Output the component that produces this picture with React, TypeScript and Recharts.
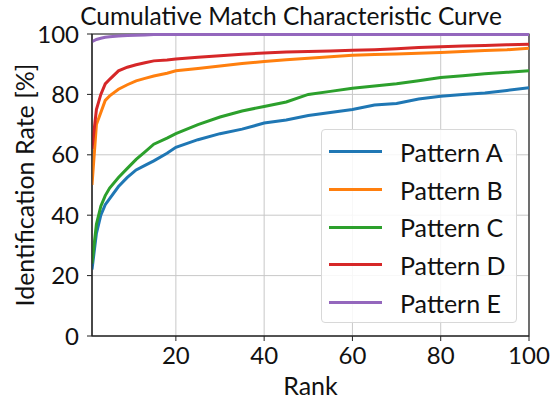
import { LineChart, Line, XAxis, YAxis, CartesianGrid, ReferenceArea, Legend } from 'recharts';

const FONT = 'Lato, "Noto Sans", sans-serif';

const ranks = [1, 2, 3, 4, 5, 7, 9, 11, 13, 15, 18, 20, 25, 30, 35, 40, 45, 50, 55, 60, 65, 70, 75, 80, 85, 90, 95, 100];
const patternA = [22, 34, 40, 43.5, 45.5, 49.5, 52.5, 55, 56.5, 58, 60.5, 62.5, 65, 67, 68.5, 70.5, 71.5, 73, 74, 75, 76.5, 77, 78.5, 79.4, 80, 80.5, 81.3, 82.2];
const patternB = [50, 70, 74, 78, 79.5, 81.7, 83.2, 84.5, 85.3, 86.1, 87, 87.8, 88.6, 89.4, 90.2, 90.9, 91.5, 92, 92.5, 93, 93.2, 93.4, 93.6, 93.9, 94.2, 94.5, 94.8, 95.3];
const patternC = [24, 37, 43, 46.5, 49, 52.5, 55.5, 58.5, 61, 63.5, 65.5, 67, 70, 72.5, 74.5, 76, 77.5, 80, 81, 82, 82.8, 83.5, 84.5, 85.6, 86.2, 86.8, 87.3, 87.8];
const patternD = [62, 75, 80, 83.5, 85, 87.8, 89, 89.8, 90.5, 91.1, 91.4, 91.7, 92.3, 92.8, 93.3, 93.7, 94, 94.2, 94.4, 94.6, 94.8, 95.1, 95.5, 95.8, 96, 96.2, 96.4, 96.6];
const patternE = [97.5, 98.2, 98.6, 98.9, 99.1, 99.3, 99.5, 99.6, 99.7, 99.8, 99.8, 99.8, 99.8, 99.8, 99.8, 99.8, 99.8, 99.8, 99.8, 99.8, 99.8, 99.8, 99.8, 99.8, 99.8, 99.8, 99.8, 99.8];

const xTicks = [20, 40, 60, 80, 100];
const yTicks = [0, 20, 40, 60, 80, 100];

const series = [
  { key: 'A', name: 'Pattern A', color: '#1f77b4', values: patternA },
  { key: 'B', name: 'Pattern B', color: '#ff7f0e', values: patternB },
  { key: 'C', name: 'Pattern C', color: '#2ca02c', values: patternC },
  { key: 'D', name: 'Pattern D', color: '#d62728', values: patternD },
  { key: 'E', name: 'Pattern E', color: '#9467bd', values: patternE },
];

const data = ranks.map((rank, i) => {
  const row: Record<string, number> = { rank };
  series.forEach((s) => {
    row[s.key] = s.values[i];
  });
  return row;
});

const LegendBox = () => (
  <div
    style={{
      width: 196,
      height: 194,
      border: '1px solid #d8d8d8',
      borderRadius: 4,
      background: 'rgba(255,255,255,0.85)',
      boxSizing: 'border-box',
      paddingTop: 3,
      fontFamily: FONT,
    }}
  >
    {series.map((s) => (
      <div key={s.key} style={{ display: 'flex', alignItems: 'center', height: 37.7 }}>
        <div style={{ width: 53, height: 3, background: s.color, marginLeft: 7, marginRight: 18 }} />
        <span style={{ fontSize: 25, color: '#111' }}>{s.name}</span>
      </div>
    ))}
  </div>
);

const YLabel = ({ viewBox }: any) => {
  const cy = viewBox.y + viewBox.height / 2;
  return (
    <text x={34} y={cy} transform={`rotate(-90, 34, ${cy})`} textAnchor="middle" fontSize={25} fontFamily={FONT} fill="#111">
      Identification Rate [%]
    </text>
  );
};

const XLabel = ({ viewBox }: any) => {
  const cx = viewBox.x + viewBox.width / 2;
  return (
    <text x={cx} y={395} textAnchor="middle" fontSize={25} fontFamily={FONT} fill="#111">
      Rank
    </text>
  );
};

export default function App() {
  return (
    <div style={{ position: 'absolute', left: 0, top: 0, width: 550, height: 403, background: '#fff' }}>
      <div
        style={{
          position: 'absolute',
          left: 0,
          top: 2,
          width: 582,
          textAlign: 'center',
          fontFamily: FONT,
          fontSize: 24.5,
          color: '#111',
          lineHeight: '28px',
        }}
      >
        Cumulative Match Characteristic Curve
      </div>
      <LineChart width={550} height={403} data={data} margin={{ top: 34, right: 21, left: 0, bottom: 0 }}>
        <CartesianGrid stroke="#c8c8c8" strokeWidth={1} />
        <XAxis
          type="number"
          dataKey="rank"
          domain={[1, 100]}
          ticks={xTicks}
          allowDataOverflow
          height={67}
          tickSize={5}
          tickMargin={6}
          stroke="#222"
          tick={{ fontSize: 24, fill: '#111', fontFamily: FONT }}
          label={<XLabel />}
        />
        <YAxis
          type="number"
          domain={[0, 100]}
          ticks={yTicks}
          width={92}
          tickSize={5}
          tickMargin={8}
          stroke="#222"
          tick={{ fontSize: 24, fill: '#111', fontFamily: FONT }}
          label={<YLabel />}
        />
        <ReferenceArea x1={1} x2={100} y1={0} y2={100} fill="none" stroke="#222" strokeWidth={1.2} />
        {series.map((s) => (
          <Line
            key={s.key}
            type="linear"
            dataKey={s.key}
            name={s.name}
            stroke={s.color}
            strokeWidth={3}
            dot={false}
            isAnimationActive={false}
          />
        ))}
        <Legend
          layout="vertical"
          align="center"
          verticalAlign="middle"
          content={<LegendBox />}
          wrapperStyle={{ position: 'absolute', left: 321, top: 129, width: 196 }}
        />
      </LineChart>
    </div>
  );
}
